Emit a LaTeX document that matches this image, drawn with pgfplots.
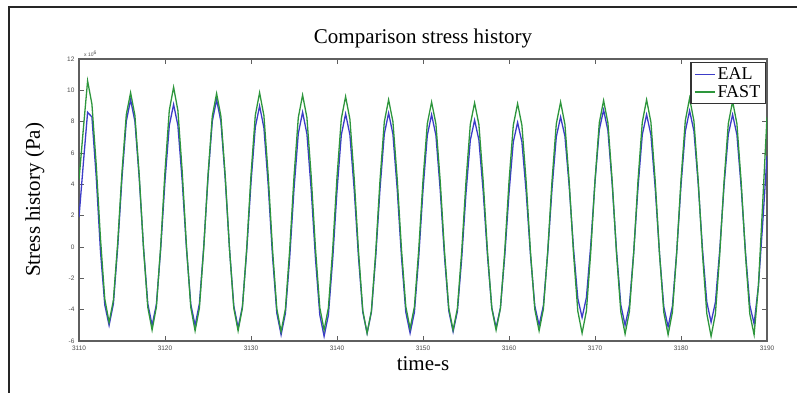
\documentclass[border=0pt]{standalone}
\usepackage{fontspec}
\setmainfont{Liberation Serif}
\setsansfont{Liberation Sans}
\usepackage{pgfplots}
\pgfplotsset{compat=1.18}
\definecolor{ealblue}{RGB}{60,60,200}
\definecolor{fastgreen}{RGB}{45,150,60}
\definecolor{axgray}{RGB}{95,95,95}

\pgfplotstableread{
t v
3110 1.9
3110.5 5.3
3111 8.6
3111.5 8.3
3112 4.5
3112.5 -0.30
3113 -3.70
3113.5 -5.0
3114 -3.62
3114.5 -0.02
3115 4.42
3115.5 8.02
3116 9.4
3116.5 8.02
3117 4.42
3117.5 -0.02
3118 -3.62
3118.5 -5.0
3119 -3.65
3119.5 -0.13
3120 4.23
3120.5 7.75
3121 9.1
3121.5 7.75
3122 4.23
3122.5 -0.13
3123 -3.65
3123.5 -5.0
3124 -3.62
3124.5 -0.02
3125 4.42
3125.5 8.02
3126 9.4
3126.5 8.01
3127 4.37
3127.5 -0.12
3128 -3.76
3128.5 -5.15
3129 -3.80
3129.5 -0.26
3130 4.11
3130.5 7.65
3131 9.0
3131.5 7.61
3132 3.96
3132.5 -0.56
3133 -4.21
3133.5 -5.6
3134 -4.24
3134.5 -0.69
3135 3.69
3135.5 7.24
3136 8.6
3136.5 7.23
3137 3.66
3137.5 -0.76
3138 -4.33
3138.5 -5.7
3139 -4.34
3139.5 -0.79
3140 3.59
3140.5 7.14
3141 8.5
3141.5 7.16
3142 3.66
3142.5 -0.66
3143 -4.16
3143.5 -5.5
3144 -4.16
3144.5 -0.65
3145 3.70
3145.5 7.21
3146 8.55
3146.5 7.21
3147 3.70
3147.5 -0.65
3148 -4.16
3148.5 -5.5
3149 -4.17
3149.5 -0.68
3150 3.63
3150.5 7.12
3151 8.45
3151.5 7.13
3152 3.66
3152.5 -0.61
3153 -4.08
3153.5 -5.4
3154 -4.11
3154.5 -0.74
3155 3.44
3155.5 6.81
3156 8.1
3156.5 6.83
3157 3.52
3157.5 -0.57
3158 -3.88
3158.5 -5.15
3159 -3.90
3159.5 -0.62
3160 3.42
3160.5 6.70
3161 7.95
3161.5 6.71
3162 3.48
3162.5 -0.53
3163 -3.76
3163.5 -5.0
3164 -3.73
3164.5 -0.40
3165 3.70
3165.5 7.03
3166 8.3
3166.5 7.08
3167 3.88
3167.5 -0.08
3168 -3.28
3168.5 -4.5
3169 -3.23
3169.5 0.08
3170 4.17
3170.5 7.48
3171 8.75
3171.5 7.44
3172 4.00
3172.5 -0.25
3173 -3.69
3173.5 -5.0
3174 -3.72
3174.5 -0.35
3175 3.80
3175.5 7.17
3176 8.45
3176.5 7.16
3177 3.77
3177.5 -0.42
3178 -3.81
3178.5 -5.1
3179 -3.78
3179.5 -0.33
3180 3.93
3180.5 7.38
3181 8.7
3181.5 7.41
3182 4.04
3182.5 -0.14
3183 -3.51
3183.5 -4.8
3184 -3.53
3184.5 -0.22
3185 3.87
3185.5 7.18
3186 8.45
3186.5 7.17
3187 3.80
3187.5 -0.35
3188 -3.72
3188.5 -4.9
3189 -2.5
3189.5 1.5
3190 5.8
}\ealdata

\pgfplotstableread{
t v
3110 4.3
3110.5 7.5
3111 10.6
3111.5 9.13
3112 5.28
3112.5 0.52
3113 -3.33
3113.5 -4.8
3114 -3.40
3114.5 0.26
3115 4.79
3115.5 8.45
3116 9.85
3116.5 8.40
3117 4.62
3117.5 -0.07
3118 -3.85
3118.5 -5.3
3119 -3.82
3119.5 0.06
3120 4.84
3120.5 8.72
3121 10.2
3121.5 8.71
3122 4.83
3122.5 0.02
3123 -3.86
3123.5 -5.35
3124 -3.90
3124.5 -0.12
3125 4.57
3125.5 8.35
3126 9.8
3126.5 8.35
3127 4.57
3127.5 -0.12
3128 -3.90
3128.5 -5.35
3129 -3.90
3129.5 -0.10
3130 4.60
3130.5 8.40
3131 9.85
3131.5 8.39
3132 4.58
3132.5 -0.13
3133 -3.94
3133.5 -5.4
3134 -3.96
3134.5 -0.18
3135 4.48
3135.5 8.26
3136 9.7
3136.5 8.27
3137 4.52
3137.5 -0.12
3138 -3.87
3138.5 -5.3
3139 -3.88
3139.5 -0.15
3140 4.45
3140.5 8.18
3141 9.6
3141.5 8.16
3142 4.38
3142.5 -0.28
3143 -4.06
3143.5 -5.5
3144 -4.08
3144.5 -0.35
3145 4.25
3145.5 7.98
3146 9.4
3146.5 8.01
3147 4.36
3147.5 -0.16
3148 -3.81
3148.5 -5.2
3149 -3.82
3149.5 -0.21
3150 4.26
3150.5 7.87
3151 9.25
3151.5 7.86
3152 4.22
3152.5 -0.27
3153 -3.91
3153.5 -5.3
3154 -3.92
3154.5 -0.29
3155 4.19
3155.5 7.82
3156 9.2
3156.5 7.82
3157 4.19
3157.5 -0.29
3158 -3.92
3158.5 -5.3
3159 -3.92
3159.5 -0.31
3160 4.16
3160.5 7.77
3161 9.15
3161.5 7.77
3162 4.14
3162.5 -0.34
3163 -3.97
3163.5 -5.35
3164 -3.96
3164.5 -0.31
3165 4.21
3165.5 7.86
3166 9.25
3166.5 7.84
3167 4.15
3167.5 -0.40
3168 -4.09
3168.5 -5.5
3169 -4.08
3169.5 -0.37
3170 4.22
3170.5 7.93
3171 9.35
3171.5 7.93
3172 4.20
3172.5 -0.40
3173 -4.13
3173.5 -5.55
3174 -4.12
3174.5 -0.38
3175 4.23
3175.5 7.97
3176 9.4
3176.5 7.97
3177 4.22
3177.5 -0.42
3178 -4.17
3178.5 -5.6
3179 -4.16
3179.5 -0.38
3180 4.28
3180.5 8.06
3181 9.5
3181.5 8.05
3182 4.25
3182.5 -0.45
3183 -4.25
3183.5 -5.7
3184 -4.27
3184.5 -0.52
3185 4.12
3185.5 7.87
3186 9.3
3186.5 7.87
3187 4.12
3187.5 -0.52
3188 -4.27
3188.5 -5.6
3189 -2.5
3189.5 2.8
3190 8.3
}\fastdata

\begin{document}
\begin{tikzpicture}
\useasboundingbox (0pt,0pt) rectangle (797pt,393pt);
\fill[white] (0pt,0pt) rectangle (797pt,393pt);
\draw[black!85, line width=1.2pt] (9pt,0pt) -- (9pt,386pt) -- (797pt,386pt);
\begin{axis}[
  at={(79pt,52pt)}, anchor=south west,
  scale only axis, width=688pt, height=282pt,
  xmin=3110, xmax=3190, ymin=-6, ymax=12,
  xtick={3110,3120,3130,3140,3150,3160,3170,3180,3190},
  xticklabels={3110,3120,3130,3140,3150,3160,3170,3180,3190},
  ytick={-6,-4,-2,0,2,4,6,8,10,12},
  yticklabels={-6,-4,-2,0,2,4,6,8,10,12},
  tick align=inside,
  major tick length=5pt,
  axis line style={axgray, line width=1.3pt},
  every tick/.style={axgray, line width=0.9pt},
  tick label style={font=\sffamily\fontsize{6.5}{7}\selectfont, text=black!70},
  xticklabel style={yshift=-1pt},
  yticklabel style={xshift=-1pt},
  title={Comparison stress history},
  title style={font=\fontsize{21}{24}\selectfont, at={(axis description cs:0.5,1.05)}, anchor=center},
  xlabel={time-s},
  xlabel style={font=\fontsize{21}{24}\selectfont, at={(axis description cs:0.5,-0.082)}, anchor=center},
  ylabel={Stress history (Pa)},
  ylabel style={font=\fontsize{21}{24}\selectfont, at={(axis description cs:-0.064,0.5)}, anchor=center},
  legend style={at={(axis description cs:1,1)}, anchor=north east, xshift=-1pt, yshift=-3pt,
    draw=black!80, line width=1.5pt, font=\fontsize{18}{19}\selectfont,
    inner xsep=3pt, inner ysep=3pt, row sep=0pt, cells={anchor=west}},
  legend image code/.code={\draw[#1, line width=1.5pt] (0pt,0pt) -- (20pt,0pt);},
]
\addplot[ealblue, line width=1.3pt] table[x=t, y=v] {\ealdata};
\addlegendentry{EAL}
\addplot[fastgreen, line width=1.3pt] table[x=t, y=v] {\fastdata};
\addlegendentry{FAST}
\end{axis}
\node[anchor=south west, inner sep=0pt, font=\sffamily\fontsize{5}{6}\selectfont, text=black!70] at (84pt,336pt) {x 10\textsuperscript{6}};
\end{tikzpicture}
\end{document}
